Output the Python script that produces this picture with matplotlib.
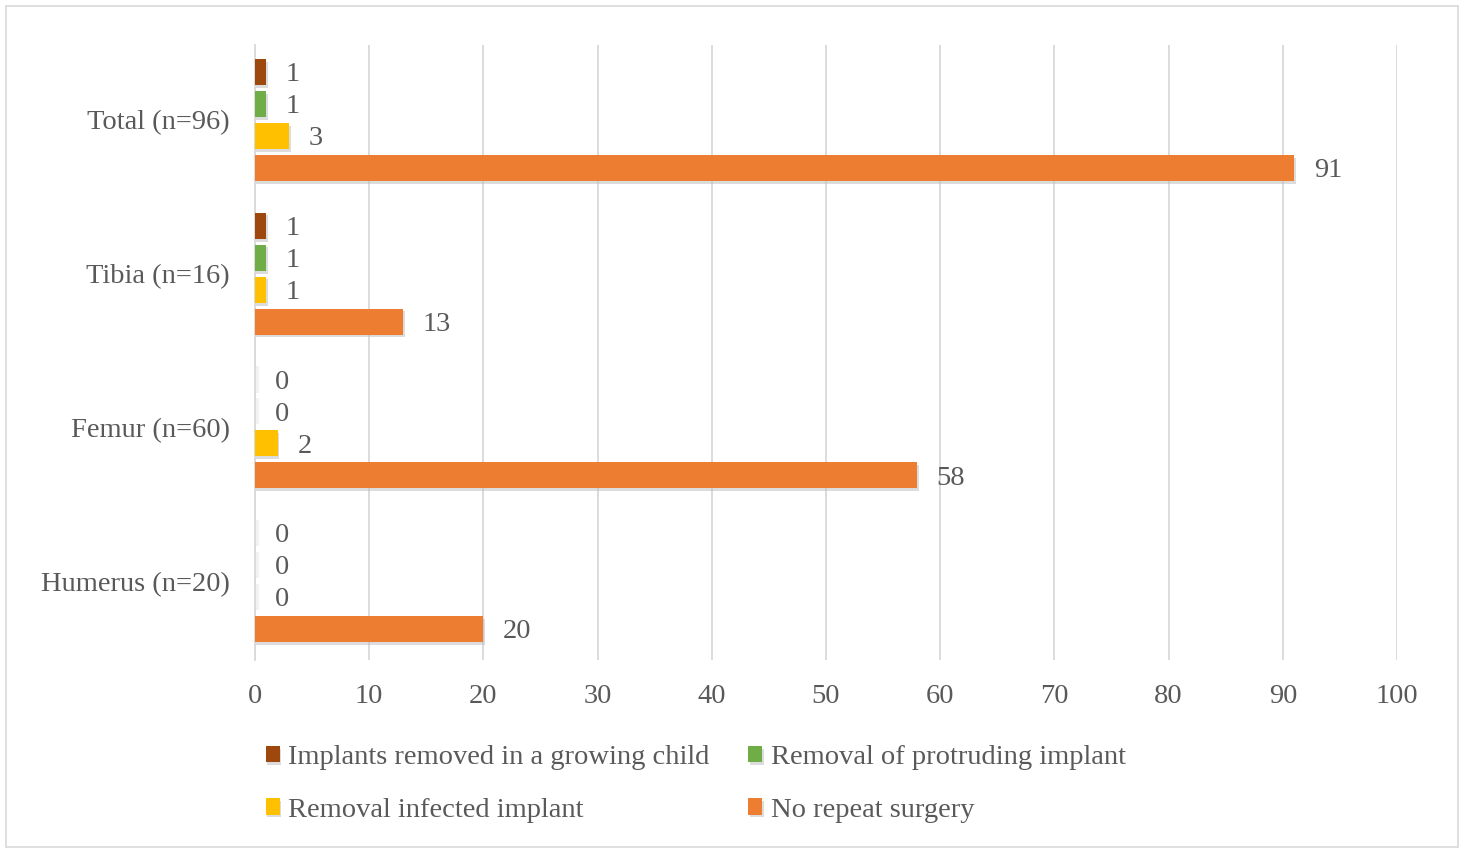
import numpy as np
import matplotlib
matplotlib.use('Agg')
import matplotlib.pyplot as plt
import matplotlib.patheffects as pe
from matplotlib.patches import Rectangle

categories = ['Humerus (n=20)', 'Femur (n=60)', 'Tibia (n=16)', 'Total (n=96)']
series_names = ['Implants removed in a growing child', 'Removal of protruding implant',
                'Removal infected implant', 'No repeat surgery']
implants_removed = [0, 0, 1, 1]
protruding = [0, 0, 1, 1]
infected = [0, 2, 1, 3]
no_repeat = [20, 58, 13, 91]
colors = ['#9E480E', '#70AD47', '#FFC000', '#ED7D31']

plt.rcParams['font.family'] = ['Liberation Serif', 'DejaVu Serif']
text_color = '#595959'
fs = 20.5

fig = plt.figure(figsize=(14.67, 8.5), dpi=100)
ax = fig.add_axes([0.1738, 0.2235, 0.7785, 0.7235])

y = np.arange(len(categories))
slot = 0.208
height = 0.17
data = [implants_removed, protruding, infected, no_repeat]
offsets = [1.5, 0.5, -0.5, -1.5]
shadow = [pe.SimplePatchShadow(offset=(1, -2), shadow_rgbFace='#bbbbbb', alpha=0.5), pe.Normal()]

handles = []
for vals, off, col, name in zip(data, offsets, colors, series_names):
    pos = y + off * slot
    bars = ax.barh(pos, vals, height, color=col, label=name, zorder=3)
    handles.append(bars)
    for b in bars:
        b.set_path_effects(shadow)
    for p, v in zip(pos, vals):
        if v == 0:
            ax.barh(p, 0.35, height, color='#f2f2f2', zorder=2)
        ax.annotate(str(v), (v, p), xytext=(14, -2), textcoords='offset points',
                    va='center', ha='left', fontsize=fs, color=text_color)

ax.set_xlim(0, 100)
ax.set_ylim(-0.513, 3.487)
ax.set_xticks(np.arange(0, 101, 10))
ax.set_yticks(y)
ax.set_yticklabels(categories)
ax.tick_params(axis='both', length=0, labelsize=fs, colors=text_color)
ax.tick_params(axis='x', pad=17)
ax.tick_params(axis='y', pad=18)
ax.grid(axis='x', color='#D9D9D9', linewidth=1.3, zorder=0)
for s in ['top', 'right', 'bottom']:
    ax.spines[s].set_visible(False)
ax.spines['left'].set_color('#D9D9D9')
ax.spines['left'].set_linewidth(1.3)

# legend fills row by row in the reference
order = [0, 2, 1, 3]
leg = fig.legend([handles[i] for i in order], [series_names[i] for i in order],
                 loc='upper left', bbox_to_anchor=(0.181, 0.1235), ncol=2, frameon=False,
                 fontsize=fs, handlelength=0.5, handleheight=0.5, handletextpad=0.3,
                 columnspacing=1.35, labelspacing=0.97, borderpad=0, borderaxespad=0)
for t in leg.get_texts():
    t.set_color(text_color)

fig.patches.append(Rectangle((0.004, 0.003), 0.99, 0.99, transform=fig.transFigure,
                             fill=False, edgecolor='#D9D9D9', linewidth=1.2))

fig.savefig('out.png', dpi=100)
